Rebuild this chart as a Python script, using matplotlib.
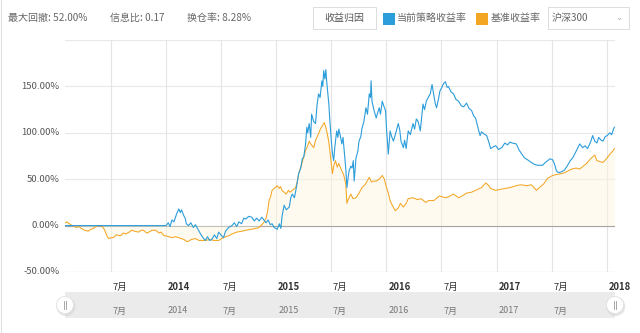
import numpy as np
import pandas as pd
import matplotlib
matplotlib.use('Agg')
import matplotlib.pyplot as plt
from matplotlib.patches import Rectangle, FancyBboxPatch, Ellipse
from matplotlib.lines import Line2D

plt.rcParams['font.family'] = ['Noto Sans CJK SC', 'DejaVu Sans']

W, H = 640, 333

# strategy cumulative return (%)
strategy_dates = [
    '2013-02-01', '2014-01-01', '2014-01-08', '2014-01-14', '2014-01-20', '2014-01-27',
    '2014-02-04', '2014-02-12', '2014-02-17', '2014-02-21', '2014-02-28', '2014-03-05',
    '2014-03-09', '2014-03-16', '2014-03-24', '2014-04-01', '2014-04-08', '2014-04-18',
    '2014-04-25', '2014-05-03', '2014-05-11', '2014-05-18', '2014-05-25', '2014-06-01',
    '2014-06-10', '2014-06-18', '2014-06-24', '2014-07-04', '2014-07-10', '2014-07-17',
    '2014-07-27', '2014-08-07', '2014-08-15', '2014-08-23', '2014-08-30', '2014-09-08',
    '2014-09-15', '2014-09-22', '2014-10-02', '2014-10-12', '2014-10-20', '2014-10-28',
    '2014-11-05', '2014-11-14', '2014-11-21', '2014-11-28', '2014-12-05', '2014-12-12',
    '2014-12-18', '2014-12-25', '2015-01-04', '2015-01-11', '2015-01-16', '2015-01-20',
    '2015-01-27', '2015-02-03', '2015-02-13', '2015-02-18', '2015-02-23', '2015-03-02',
    '2015-03-09', '2015-03-16', '2015-03-23', '2015-03-28', '2015-04-02', '2015-04-08',
    '2015-04-12', '2015-04-15', '2015-04-20', '2015-04-25', '2015-04-28', '2015-05-05',
    '2015-05-11', '2015-05-16', '2015-05-21', '2015-05-26', '2015-06-01', '2015-06-04',
    '2015-06-07', '2015-06-11', '2015-06-14', '2015-06-17', '2015-06-20', '2015-06-24',
    '2015-06-28', '2015-07-03', '2015-07-06', '2015-07-10', '2015-07-14', '2015-07-20',
    '2015-07-24', '2015-07-27', '2015-08-01', '2015-08-06', '2015-08-10', '2015-08-14',
    '2015-08-19', '2015-08-23', '2015-08-27', '2015-08-30', '2015-09-05', '2015-09-09',
    '2015-09-13', '2015-09-16', '2015-09-22', '2015-09-28', '2015-10-02', '2015-10-08',
    '2015-10-12', '2015-10-18', '2015-10-25', '2015-10-30', '2015-11-05', '2015-11-09',
    '2015-11-11', '2015-11-14', '2015-11-20', '2015-11-28', '2015-12-03', '2015-12-08',
    '2015-12-12', '2015-12-18', '2015-12-24', '2015-12-29', '2016-01-01', '2016-01-07',
    '2016-01-10', '2016-01-13', '2016-01-18', '2016-01-24', '2016-02-01', '2016-02-09',
    '2016-02-14', '2016-02-18', '2016-02-26', '2016-03-01', '2016-03-06', '2016-03-13',
    '2016-03-20', '2016-03-29', '2016-04-03', '2016-04-09', '2016-04-15', '2016-04-22',
    '2016-05-01', '2016-05-06', '2016-05-12', '2016-05-18', '2016-05-25', '2016-05-31',
    '2016-06-06', '2016-06-11', '2016-06-15', '2016-06-21', '2016-06-26', '2016-07-01',
    '2016-07-08', '2016-07-14', '2016-07-20', '2016-07-24', '2016-08-02', '2016-08-10',
    '2016-08-18', '2016-08-27', '2016-09-05', '2016-09-13', '2016-09-22', '2016-10-01',
    '2016-10-09', '2016-10-16', '2016-10-22', '2016-11-01', '2016-11-06', '2016-11-11',
    '2016-11-18', '2016-11-28', '2016-12-05', '2016-12-11', '2016-12-20', '2016-12-28',
    '2017-01-06', '2017-01-17', '2017-01-27', '2017-02-05', '2017-02-13', '2017-02-20',
    '2017-03-06', '2017-03-16', '2017-04-02', '2017-04-12', '2017-04-25', '2017-05-05',
    '2017-05-15', '2017-06-01', '2017-06-10', '2017-06-18', '2017-06-26', '2017-07-04',
    '2017-07-10', '2017-07-17', '2017-07-24', '2017-08-03', '2017-08-13', '2017-08-23',
    '2017-09-01', '2017-09-09', '2017-09-20', '2017-10-02', '2017-10-12', '2017-10-20',
    '2017-10-28', '2017-11-07', '2017-11-14', '2017-11-21', '2017-11-28', '2017-12-04',
    '2017-12-12', '2017-12-18', '2017-12-26', '2018-01-01', '2018-01-10', '2018-01-16',
    '2018-01-22', '2018-01-25',
]
strategy_values = [
    0, 0, 3, -1, 6, 4,
    12, 18, 14, 17, 11, 8,
    2, 0, 3, -2, 1, -5,
    -9, -13, -16, -12, -16, -15,
    -10, -14, -7, -11, -13, -6,
    -2, 0, 3, -1, 4, 2,
    8, 7, 10, 9, 5, 8,
    5, 9, 6, 3, 6, 1,
    2, -2, -4, 2, -3, 10,
    22, 17, 20, 30, 34, 30,
    42, 56, 62, 72, 74, 88,
    106, 100, 110, 95, 120, 112,
    110, 130, 142, 138, 156, 150,
    167, 158, 168, 155, 145, 131,
    110, 88, 78, 70, 85, 102,
    95, 104, 97, 88, 95, 80,
    62, 41, 52, 59, 64, 62,
    70, 48, 73, 80, 91, 96,
    105, 112, 127, 120, 142, 138,
    156, 134, 125, 116, 122, 127,
    120, 134, 128, 124, 105, 77,
    90, 102, 96, 91, 100, 110,
    103, 91, 84, 92, 83, 102,
    98, 110, 104, 115, 112, 102,
    131, 125, 134, 138, 142, 152,
    140, 131, 127, 136, 145, 148,
    153, 155, 149, 150, 144, 142,
    136, 134, 129, 128, 132, 126,
    124, 118, 116, 103, 97, 101,
    99, 97, 90, 83, 85, 86,
    82, 84, 89, 87, 90, 89,
    88, 81, 73, 71, 68, 66,
    65, 65, 68, 70, 72, 71,
    67, 59, 57, 58, 60, 65,
    70, 73, 80, 88, 84, 86,
    83, 90, 97, 91, 89, 95,
    92, 91, 96, 97, 100, 98,
    104, 106,
]

# benchmark (CSI 300) cumulative return (%)
benchmark_dates = [
    '2013-02-01', '2013-02-07', '2013-02-14', '2013-02-24', '2013-03-03', '2013-03-10',
    '2013-03-18', '2013-03-26', '2013-04-05', '2013-04-18', '2013-04-26', '2013-05-05',
    '2013-05-14', '2013-05-21', '2013-06-01', '2013-06-10', '2013-06-14', '2013-06-20',
    '2013-06-25', '2013-07-01', '2013-07-10', '2013-07-20', '2013-08-03', '2013-08-12',
    '2013-08-20', '2013-09-01', '2013-09-09', '2013-09-18', '2013-10-02', '2013-10-10',
    '2013-10-18', '2013-10-28', '2013-11-05', '2013-11-15', '2013-11-28', '2013-12-08',
    '2013-12-15', '2013-12-25', '2014-01-01', '2014-01-10', '2014-01-20', '2014-02-01',
    '2014-02-12', '2014-02-21', '2014-03-01', '2014-03-09', '2014-03-16', '2014-03-25',
    '2014-04-08', '2014-04-20', '2014-05-11', '2014-05-25', '2014-06-10', '2014-06-24',
    '2014-07-04', '2014-07-17', '2014-07-27', '2014-08-07', '2014-08-23', '2014-09-10',
    '2014-09-22', '2014-10-10', '2014-10-25', '2014-11-05', '2014-11-11', '2014-11-20',
    '2014-11-28', '2014-12-03', '2014-12-08', '2014-12-13', '2014-12-18', '2014-12-25',
    '2015-01-04', '2015-01-10', '2015-01-15', '2015-01-20', '2015-01-27', '2015-02-03',
    '2015-02-10', '2015-02-16', '2015-02-23', '2015-03-06', '2015-03-12', '2015-03-16',
    '2015-03-25', '2015-04-02', '2015-04-08', '2015-04-15', '2015-04-20', '2015-04-25',
    '2015-05-05', '2015-05-11', '2015-05-21', '2015-05-27', '2015-06-03', '2015-06-09',
    '2015-06-14', '2015-06-17', '2015-06-24', '2015-06-30', '2015-07-06', '2015-07-10',
    '2015-07-16', '2015-07-22', '2015-07-27', '2015-08-06', '2015-08-12', '2015-08-19',
    '2015-08-23', '2015-08-27', '2015-09-05', '2015-09-12', '2015-09-22', '2015-10-02',
    '2015-10-12', '2015-10-22', '2015-11-05', '2015-11-12', '2015-11-20', '2015-11-28',
    '2015-12-08', '2015-12-18', '2015-12-25', '2016-01-01', '2016-01-07', '2016-01-13',
    '2016-01-20', '2016-01-30', '2016-02-09', '2016-02-16', '2016-02-26', '2016-03-06',
    '2016-03-13', '2016-03-29', '2016-04-12', '2016-04-25', '2016-05-10', '2016-05-20',
    '2016-06-06', '2016-06-24', '2016-07-14', '2016-07-24', '2016-08-10', '2016-08-27',
    '2016-09-13', '2016-09-22', '2016-10-09', '2016-10-22', '2016-11-11', '2016-11-25',
    '2016-12-05', '2016-12-11', '2016-12-28', '2017-01-11', '2017-01-27', '2017-02-13',
    '2017-03-06', '2017-03-20', '2017-04-10', '2017-04-25', '2017-05-12', '2017-05-25',
    '2017-06-05', '2017-06-18', '2017-07-04', '2017-07-17', '2017-08-03', '2017-08-13',
    '2017-09-06', '2017-09-20', '2017-10-02', '2017-10-25', '2017-11-07', '2017-11-21',
    '2017-11-28', '2017-12-08', '2017-12-18', '2018-01-01', '2018-01-10', '2018-01-19',
    '2018-01-25',
]
benchmark_values = [
    3, 4, 2, 0, -1, -2,
    -1, -3, -5, -6, -4, -3,
    -1, 0, 0, -4, -7, -12,
    -14, -13, -13, -10, -11, -8,
    -9, -7, -5, -6, -7, -5,
    -5, -8, -7, -5, -5, -8,
    -7, -11, -11, -12, -13, -12,
    -13, -14, -15, -17, -17, -15,
    -14, -16, -16, -15, -16, -16,
    -14, -12, -11, -9, -7, -6,
    -5, -4, -3, -2, 0, 3,
    8, 15, 27, 31, 38, 40,
    43, 40, 42, 38, 36, 34,
    38, 36, 38, 41, 48, 56,
    65, 74, 81, 86, 91, 88,
    84, 92, 99, 104, 108, 111,
    106, 102, 90, 73, 56, 64,
    70, 63, 67, 59, 55, 45,
    24, 28, 34, 29, 30, 35,
    41, 44, 52, 47, 48, 48,
    50, 54, 50, 41, 35, 27,
    22, 16, 19, 24, 20, 24,
    29, 30, 28, 29, 25, 27,
    27, 32, 30, 31, 34, 30,
    33, 35, 36, 38, 41, 46,
    43, 40, 38, 39, 40, 41,
    43, 44, 43, 44, 38, 42,
    45, 51, 54, 55, 56, 57,
    61, 62, 61, 67, 72, 76,
    70, 69, 68, 73, 77, 80,
    83,
]

# header stats and legend texts
stat_texts = ['最大回撤: 52.00%', '信息比: 0.17', '换仓率: 8.28%']
series_names = ['当前策略收益率', '基准收益率']
button_text = '收益归因'
index_name = '沪深300'

y_ticks = [-50, 0, 50, 100, 150, 200]
x_ticks = ['2013-07-01', '2014-01-01', '2014-07-01', '2015-01-01', '2015-07-01',
           '2016-01-01', '2016-07-01', '2017-01-01', '2017-07-01', '2018-01-01']
x_labels = ['7月', '2014', '7月', '2015', '7月', '2016', '7月', '2017', '7月', '2018']

BLUE = '#2b9ddb'
ORANGE = '#f3a623'

s_dates = pd.to_datetime(strategy_dates)
b_dates = pd.to_datetime(benchmark_dates)
tick_dates = pd.to_datetime(x_ticks)
x_start, x_end = pd.Timestamp('2013-01-31'), pd.Timestamp('2018-01-27')


def fx(px):
    return px / W


def fy(py):
    return 1 - py / H


fig = plt.figure(figsize=(W / 100, H / 100), dpi=100)
fig.patch.set_facecolor('white')

# main chart area
ax = fig.add_axes([fx(65), fy(272), fx(615) - fx(65), fy(40) - fy(272)])
ax.set_xlim(x_start, x_end)
ax.set_ylim(-50, 200)
for s in ax.spines.values():
    s.set_visible(False)
ax.set_xticks([])
ax.set_yticks([])

for v in y_ticks:
    ax.axhline(v, color='#e8e8e8', lw=0.8, zorder=0)
ax.axhline(-50, color='#d8d8d8', lw=0.8, zorder=0)
for d in tick_dates:
    ax.axvline(d, color='#e4e4e4', lw=0.8, zorder=0)
ax.axhline(0, color='#a0a0a0', lw=0.8, zorder=1)

# very light area under the benchmark
ax.fill_between(b_dates, benchmark_values, 0, color='#fdf6dc', alpha=0.45, lw=0, zorder=1)
ax.plot(b_dates, benchmark_values, color=ORANGE, lw=0.75, zorder=2)
ax.plot(s_dates, strategy_values, color=BLUE, lw=0.8, zorder=3)

for v in y_ticks[:-1]:
    ax.text(-0.01, v, f'{v:.2f}%', transform=ax.get_yaxis_transform(),
            ha='right', va='center', fontsize=6.8, color='#555555')

xt = ax.get_xaxis_transform()
for d, lab in zip(tick_dates, x_labels):
    bold = lab != '7月'
    ax.text(d + pd.Timedelta(days=6), -0.065, lab, transform=xt, ha='left', va='center',
            fontsize=6.8, color='#333333', fontweight='bold' if bold else 'normal',
            clip_on=False)

# navigator strip
nav = fig.add_axes([fx(65), fy(318), fx(615) - fx(65), fy(292) - fy(318)])
nav.set_xlim(x_start, x_end)
nav.set_ylim(0, 1)
nav.set_facecolor('#ebebeb')
for s in nav.spines.values():
    s.set_visible(False)
nav.set_xticks([])
nav.set_yticks([])
for d, lab in zip(tick_dates[:-1], x_labels[:-1]):
    nav.text(d + pd.Timedelta(days=6), 0.27, lab, ha='left', va='center',
             fontsize=6.5, color='#777777')

# navigator handles
for hx in (65, 615):
    fig.add_artist(Ellipse((fx(hx + 0.8), fy(306.5)), width=19 / W, height=19 / H,
                           transform=fig.transFigure, facecolor='#d0d0d0',
                           edgecolor='none', alpha=0.55))
    fig.add_artist(Ellipse((fx(hx), fy(305)), width=17 / W, height=17 / H,
                           transform=fig.transFigure, facecolor='white',
                           edgecolor='#e2e2e2', lw=0.6))
    for dx in (-1.2, 1.2):
        fig.add_artist(Line2D([fx(hx + dx), fx(hx + dx)], [fy(301), fy(309)],
                              color='#999999', lw=0.6))

# header stats
for x0, t in zip((8, 110, 187), stat_texts):
    fig.text(fx(x0), fy(18), t, ha='left', va='center', fontsize=7.2, color='#666666')

# attribution button
fig.add_artist(FancyBboxPatch((fx(313), fy(29)), fx(376) - fx(313), fy(7) - fy(29),
                              boxstyle='square,pad=0', transform=fig.transFigure,
                              facecolor='white', edgecolor='#dcdcdc', lw=0.7))
fig.text(fx(344.5), fy(18), button_text, ha='center', va='center', fontsize=7.2,
         color='#555555')

# legend
for sx, tx, col, name in ((383, 397, BLUE, series_names[0]),
                          (476, 491, ORANGE, series_names[1])):
    fig.add_artist(Rectangle((fx(sx), fy(25)), 12 / W, 12 / H, transform=fig.transFigure,
                             facecolor=col, edgecolor='none'))
    fig.text(fx(tx), fy(18), name, ha='left', va='center', fontsize=7.2, color='#666666')

# benchmark selector
fig.add_artist(FancyBboxPatch((fx(548), fy(29)), fx(629) - fx(548), fy(7) - fy(29),
                              boxstyle='square,pad=0', transform=fig.transFigure,
                              facecolor='white', edgecolor='#dcdcdc', lw=0.7))
fig.text(fx(552), fy(18), index_name, ha='left', va='center', fontsize=7.2, color='#666666')
fig.text(fx(619), fy(18), '⌄', ha='center', va='center', fontsize=6, color='#aaaaaa',
         family='DejaVu Sans')

# page border on the left
fig.add_artist(Line2D([fx(0.5), fx(0.5)], [0, 1], color='#e0e0e0', lw=0.8))

fig.savefig('out.png', dpi=100, facecolor='white')
